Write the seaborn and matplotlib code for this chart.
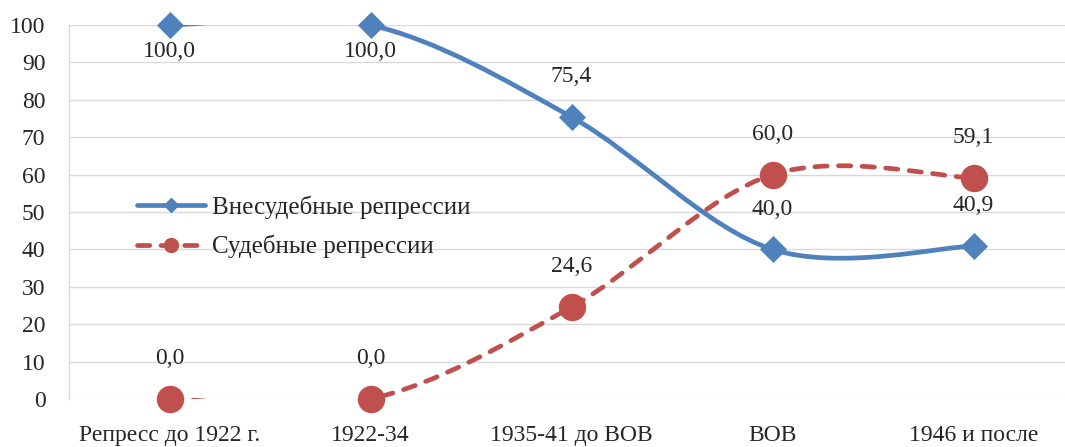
import numpy as np
import matplotlib
matplotlib.use("Agg")
import matplotlib.pyplot as plt
import seaborn as sns
from matplotlib.path import Path
from matplotlib.patches import PathPatch
from matplotlib.lines import Line2D

# данные
periods = ["Репресс до 1922 г.", "1922-34", "1935-41 до ВОВ", "ВОВ", "1946 и после"]
extrajudicial = [100.0, 100.0, 75.4, 40.0, 40.9]
judicial = [0.0, 0.0, 24.6, 60.0, 59.1]

BLUE = "#4F81BD"
RED = "#C0504D"
FS = 17
LW = 3.4
DASH = (0, (2.6, 2.4))

sns.set_style("white")
plt.rcParams["font.family"] = ["Liberation Serif", "DejaVu Serif"]


def smooth_path(ys):
    # сглаженная линия как в Excel (кривые Безье)
    pts = np.column_stack([np.arange(len(ys)), ys]).astype(float)
    n = len(pts)
    verts = [pts[0]]
    codes = [Path.MOVETO]
    for i in range(n - 1):
        p_prev = pts[i - 1] if i > 0 else pts[i]
        p_next2 = pts[i + 2] if i + 2 < n else pts[i + 1]
        c1 = pts[i] + (pts[i + 1] - p_prev) / 6
        c2 = pts[i + 1] - (p_next2 - pts[i]) / 6
        verts += [c1, c2, pts[i + 1]]
        codes += [Path.CURVE4] * 3
    return Path(verts, codes)


fig = plt.figure(figsize=(10.65, 4.47), dpi=100)
ax = fig.add_axes([69 / 1065, 48 / 447, 1005 / 1065, 374 / 447])

x = np.arange(len(periods))

ax.add_patch(PathPatch(smooth_path(extrajudicial), facecolor="none", edgecolor=BLUE,
                       lw=LW, capstyle="round", transform=ax.transData, zorder=2))
ax.add_patch(PathPatch(smooth_path(judicial), facecolor="none", edgecolor=RED,
                       lw=LW, linestyle=DASH, capstyle="round", transform=ax.transData, zorder=2))

sns.scatterplot(x=x, y=extrajudicial, marker="D", s=190, color=BLUE, edgecolor=BLUE,
                linewidth=0, ax=ax, clip_on=False, zorder=3)
sns.scatterplot(x=x, y=judicial, marker="o", s=390, color=RED, edgecolor=RED,
                linewidth=0, ax=ax, clip_on=False, zorder=3)

# подписи значений
for xi, v in zip(x, extrajudicial):
    off = -19 if v >= 95 else 29
    ax.annotate(f"{v:.1f}".replace(".", ","), (xi, v), xytext=(0, off), textcoords="offset points",
                ha="center", va="center", fontsize=FS, annotation_clip=False)
for xi, v in zip(x, judicial):
    ax.annotate(f"{v:.1f}".replace(".", ","), (xi, v), xytext=(0, 29), textcoords="offset points",
                ha="center", va="center", fontsize=FS, annotation_clip=False)

ax.set_xlim(-0.5, len(periods) - 0.5)
ax.set_ylim(0, 100)
ax.set_yticks(range(0, 101, 10))
ax.set_xticks(x)
ax.set_xticklabels(periods)
ax.tick_params(axis="both", length=0, labelsize=FS)
ax.tick_params(axis="y", pad=17)
ax.tick_params(axis="x", pad=19)
ax.yaxis.grid(True, color="#D9D9D9", lw=1)
ax.set_axisbelow(True)
for s in ["top", "right", "bottom"]:
    ax.spines[s].set_visible(False)
ax.spines["left"].set_color("#D9D9D9")
ax.spines["left"].set_linewidth(1)

handles = [
    Line2D([], [], color=BLUE, lw=LW, marker="D", ms=7.5),
    Line2D([], [], color=RED, lw=LW, ls=DASH, dash_capstyle="round", marker="o", ms=10),
]
ax.legend(handles, ["Внесудебные репрессии", "Судебные репрессии"], loc="upper left",
          bbox_to_anchor=(0.068, 0.545), frameon=False, fontsize=18, borderpad=0,
          borderaxespad=0, handlelength=2.7, handletextpad=0.3, labelspacing=0.65)

fig.savefig("out.png", dpi=100)
